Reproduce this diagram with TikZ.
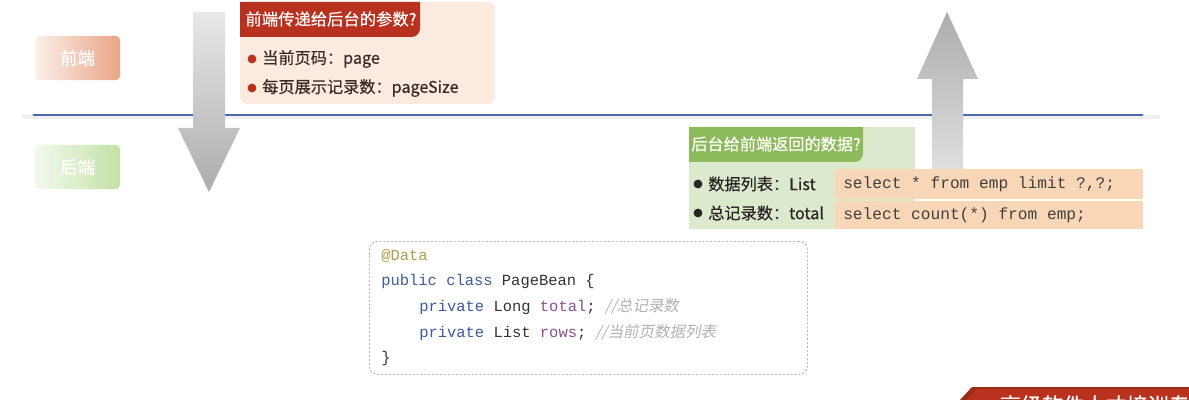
\documentclass[tikz,border=0pt]{standalone}
\usepackage{fontspec}
\setmainfont[FakeBold=0.4]{Noto Sans CJK SC}
\newfontfamily\codefont{Liberation Mono}
\newfontfamily\notefont[FakeSlant=0.2]{Noto Sans CJK SC}
\usetikzlibrary{positioning}

\definecolor{tabred}{HTML}{B9321F}
\definecolor{peach}{HTML}{FBEADF}
\definecolor{tabgreen}{HTML}{8DBA5B}
\definecolor{greenbg}{HTML}{DDE9CC}
\definecolor{sqlorange}{HTML}{F8D6B6}
\definecolor{lineblue}{HTML}{4A6BB0}
\definecolor{kwblue}{HTML}{3E5BA0}
\definecolor{fieldpurple}{HTML}{8B4F90}
\definecolor{annogold}{HTML}{B39B4F}
\definecolor{textdark}{HTML}{3A2A24}
\definecolor{feleft}{HTML}{FCEFE9}
\definecolor{feright}{HTML}{E8A586}
\definecolor{beleft}{HTML}{F2F9EE}
\definecolor{beright}{HTML}{C4E1A6}

\newcommand{\sqlline}[1]{\makebox[7.3cm][l]{#1}}

\begin{document}
\begin{tikzpicture}[x=0.025cm,y=-0.025cm,
  font=\fontsize{11.5}{13}\selectfont,
  side/.style={rounded corners=3pt,text=white,minimum width=2.125cm,
    minimum height=1.1cm,font=\fontsize{12.4}{14}\selectfont},
  item/.style={anchor=west,inner sep=0pt,text=textdark},
  dot/.style={circle,inner sep=0pt,minimum size=0.22cm},
  sql/.style={anchor=north west,fill=sqlorange,inner xsep=0.2cm,
    inner ysep=0pt,font=\codefont\fontsize{11.5}{13}\selectfont,text=black!75},
  code/.style={anchor=west,inner sep=0pt,font=\codefont\fontsize{11}{13}\selectfont}]

  \fill[white] (0,0) rectangle (1189,400);
  \useasboundingbox (0,0) rectangle (1189,400);
  \clip (0,0) rectangle (1189,400);

  % front end / back end labels
  \node[side,left color=feleft,right color=feright] (FE) at (77.5,58) {前端};
  \node[side,left color=beleft,right color=beright] (BE) at (77.5,167) {后端};

  % boundary line
  \draw[line width=3pt,gray!12] (22,117) -- (1160,117);
  \draw[line width=2pt,lineblue] (33,115) -- (1143,115);

  % request arrow
  \shade[top color=gray!18,bottom color=gray!65]
    (193,12) -- (225,12) -- (225,128) -- (240,128) -- (209,192) -- (178,128) -- (193,128) -- cycle;

  % response arrow
  \shade[top color=gray!65,bottom color=gray!25]
    (932,170) -- (932,79) -- (917,79) -- (947,12) -- (978,79) -- (963,79) -- (963,170) -- cycle;

  % request box
  \fill[peach,rounded corners=5pt] (240,2) rectangle (495,104);
  \fill[tabred] (240,37) -- (240,2) -- (420,2) [rounded corners=6pt] -- (420,37) -- (240,37);
  \node[text=white,font=\fontsize{11.6}{14}\selectfont] (ReqTitle) at (331,19) {前端传递给后台的参数?};
  \node[item] (P1) at (262,59) {当前页码：page};
  \node[item,below=0.725cm of P1.west,anchor=west] (P2) {每页展示记录数：pageSize};
  \node[dot,fill=tabred] (D1) at (252,59) {};
  \node[dot,fill=tabred] (D2) at (252,88) {};

  % response box
  \fill[greenbg] (689,229) -- (689,127) -- (915,127) -- (915,229) -- cycle;
  \fill[tabgreen] (689,162) -- (689,127) -- (863,127) [rounded corners=6pt] -- (863,162) -- (689,162);
  \node[text=white] (ResTitle) at (776,144) {后台给前端返回的数据?};
  \node[item,text=black!85] (R1) at (708,184) {数据列表：List};
  \node[item,text=black!85,below=0.725cm of R1.west,anchor=west] (R2) {总记录数：total};
  \node[dot,fill=black!85] (D3) at (698,184) {};
  \node[dot,fill=black!85] (D4) at (698,213) {};
  \node[sql,minimum height=0.75cm] (S1) at (835,169) {\sqlline{select * from emp limit ?,?;}};
  \node[sql,minimum height=0.7cm] (S2) at (835,201) {\sqlline{select count(*) from emp;}};

  % result class
  \node[draw=gray!80,dash pattern=on 1.6pt off 1.2pt,rounded corners=6pt,
    minimum width=10.95cm,minimum height=3.325cm,anchor=north west] (Bean) at (369,241) {};
  \node[code,text=annogold] (C1) at (381,256) {@Data};
  \node[code,below=0.63cm of C1.west,anchor=west] (C2)
    {\textcolor{kwblue}{public class} \textcolor{black!80}{PageBean \{}};
  \node[code] (C3) at (419,307)
    {\textcolor{kwblue}{private} \textcolor{black!80}{Long} \textcolor{fieldpurple}{total}\textcolor{black!80}{;} \textcolor{gray!60}{\notefont //总记录数}};
  \node[code] (C4) at (419,333)
    {\textcolor{kwblue}{private} \textcolor{black!80}{List} \textcolor{fieldpurple}{rows}\textcolor{black!80}{;} \textcolor{gray!60}{\notefont //当前页数据列表}};
  \node[code,text=black!80] (C5) at (381,358) {\}};

  % corner banner
  \fill[tabred!85!black] (960,400) -- (972,387) -- (1189,387) -- (1189,400) -- cycle;
  \fill[tabred] (967,400) -- (977,389) -- (1189,389) -- (1189,400) -- cycle;
  \node[anchor=west,text=white,font=\fontsize{15}{17}\selectfont] (Brand) at (995,405) {高级软件人才培训专家};
\end{tikzpicture}
\end{document}
